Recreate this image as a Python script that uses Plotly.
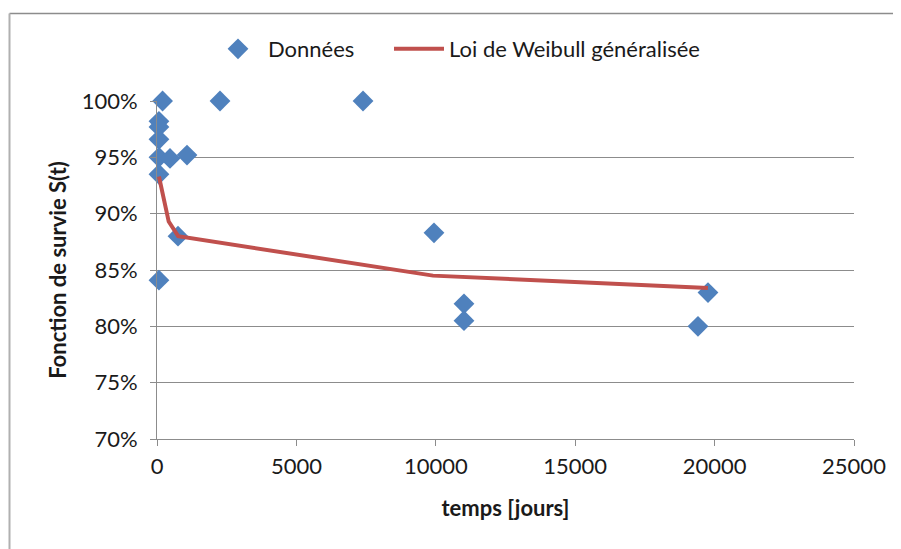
import plotly.graph_objects as go

# Data
data_t = [200, 70, 70, 70, 70, 466, 1076, 70, 753, 70, 2260, 7390, 9935, 11011, 11011, 19404, 19763]
data_s = [1.000, 0.982, 0.977, 0.966, 0.950, 0.949, 0.952, 0.935, 0.880, 0.841,
          1.000, 1.000, 0.883, 0.820, 0.805, 0.800, 0.830]

model_t = [70, 420, 760, 9900, 19760]
model_s = [0.933, 0.893, 0.880, 0.845, 0.834]

x_ticks = [0, 5000, 10000, 15000, 20000, 25000]
y_ticks = [0.70, 0.75, 0.80, 0.85, 0.90, 0.95, 1.00]

FONT = "Lato"
GRID = "#8c8c8c"
FS = 22

fig = go.Figure()
fig.add_trace(go.Scatter(
    x=data_t, y=data_s, mode="markers", name="Données",
    marker=dict(symbol="diamond", size=16, color="#4F81BD", line=dict(width=0)),
    cliponaxis=False, legend="legend",
))
fig.add_trace(go.Scatter(
    x=model_t, y=model_s, mode="lines", name="Loi de Weibull généralisée",
    line=dict(color="#C0504D", width=4),
    cliponaxis=False, legend="legend2",
))

# page body offset compensation
OFF = 7
W, H = 901, 549
L, R, T, B = 156 - OFF, 48 + OFF, 100 - OFF, 111 + OFF
pw, ph = W - L - R, H - T - B

def px(xp):
    return (xp - OFF - L) / pw

def py(yp):
    return (H - B - (yp - OFF)) / ph

legfont = dict(family=FONT, size=FS, color="#1a1a1a")

fig.update_layout(
    width=W, height=H,
    margin=dict(l=L, r=R, t=T, b=B),
    paper_bgcolor="white", plot_bgcolor="white",
    font=dict(family=FONT, size=FS, color="#1a1a1a"),
    showlegend=True,
    legend=dict(orientation="h", x=px(207), xanchor="left", y=py(48), yanchor="middle",
                font=legfont, itemwidth=50),
    legend2=dict(orientation="h", x=px(388), xanchor="left", y=py(48), yanchor="middle",
                 font=legfont, itemwidth=50),
    xaxis=dict(range=[0, 25000], tickvals=x_ticks, tickformat="d",
               showgrid=False, zeroline=False,
               showline=True, linecolor=GRID, linewidth=1,
               ticks="outside", ticklen=6, tickcolor=GRID,
               ticklabelstandoff=2,
               tickfont=dict(family=FONT, size=FS),
               title=dict(text="<b>temps [jours]</b>", font=dict(family=FONT, size=FS), standoff=22)),
    yaxis=dict(range=[0.70, 1.00], tickvals=y_ticks, tickformat=".0%",
               showgrid=True, gridcolor=GRID, gridwidth=1, zeroline=False,
               showline=True, linecolor=GRID, linewidth=1,
               ticks="outside", ticklen=6, tickcolor=GRID,
               ticklabelstandoff=8,
               tickfont=dict(family=FONT, size=FS),
               title=dict(text="<b>Fonction de survie S(t)</b>", font=dict(family=FONT, size=FS), standoff=8)),
    shapes=[
        dict(type="line", xref="paper", yref="paper", x0=px(8.5), x1=px(W + 20), y0=py(12.5), y1=py(12.5),
             line=dict(color="#8c8c8c", width=1.5)),
        dict(type="line", xref="paper", yref="paper", x0=px(8.5), x1=px(8.5), y0=py(12.5), y1=py(H + 20),
             line=dict(color="#b0b0b0", width=2)),
    ],
)

fig.write_html("out.html")
